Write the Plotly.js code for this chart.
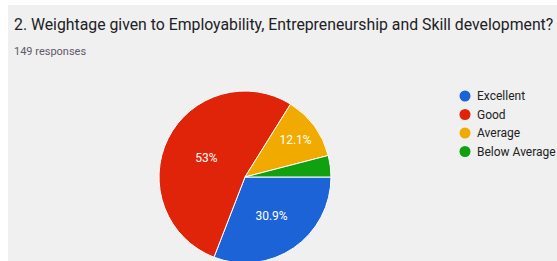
<!DOCTYPE html>
<html>
<head>
<meta charset="utf-8">
<script src="https://cdn.plot.ly/plotly-3.0.1.min.js"></script>
<style>
  html, body { margin: 0; padding: 0; background: #ffffff; overflow: hidden; width: 557px; height: 261px; }
  #chart { position: absolute; left: 8px; top: 5px; width: 549px; height: 270px; }
</style>
</head>
<body>
<div id="chart"></div>
<script>
// ---- data ----
const titleText = "2. Weightage given to Employability, Entrepreneurship and Skill development?";
const subtitleText = "149 responses";
const categories = ["Excellent", "Good", "Average", "Below Average"];
const counts = [46, 79, 18, 6];
const colors = ["#1c63d8", "#e0240a", "#f1ab00", "#10a010"];

// ---- layout helpers ----
const W = 549, H = 270;
const px = x => (x - 8) / W;          // page x -> paper x
const py = y => 1 - (y - 5) / H;      // page y -> paper y

const total = counts.reduce((a, b) => a + b, 0);
const labelsText = counts.map(v => {
  const p = Math.round(v / total * 1000) / 10;
  return p < 5 ? "" : (Number.isInteger(p) ? p.toFixed(0) : p.toFixed(1)) + "%";
});

const pie = {
  type: "pie",
  labels: categories,
  values: counts,
  text: labelsText,
  textinfo: "text",
  textposition: "inside",
  insidetextorientation: "horizontal",
  textfont: { family: "Roboto, Arial, sans-serif", size: 12, color: "#ffffff" },
  marker: { colors: colors, line: { color: "#ffffff", width: 1 } },
  sort: false,
  direction: "clockwise",
  rotation: 90,
  showlegend: false,
  hoverinfo: "none",
  domain: { x: [px(159), px(331)], y: [py(263), py(91)] }
};

const annotations = [
  { text: titleText, xref: "paper", yref: "paper", x: px(12), y: py(24), xanchor: "left", yanchor: "middle",
    showarrow: false, font: { family: "Roboto, Arial, sans-serif", size: 15.8, color: "#202124" } },
  { text: subtitleText, xref: "paper", yref: "paper", x: px(12), y: py(51), xanchor: "left", yanchor: "middle",
    showarrow: false, font: { family: "Roboto, Arial, sans-serif", size: 11, color: "#5f5a6a" } }
];
const shapes = [];
const legendY = [96, 114.5, 133, 151.5];
categories.forEach((c, i) => {
  shapes.push({ type: "circle", xref: "paper", yref: "paper", xsizemode: "pixel", ysizemode: "pixel",
    xanchor: px(465), yanchor: py(legendY[i]), x0: -5.5, x1: 5.5, y0: -5.5, y1: 5.5,
    fillcolor: colors[i], line: { width: 0 } });
  annotations.push({ text: c, xref: "paper", yref: "paper", x: px(475), y: py(legendY[i]), xanchor: "left", yanchor: "middle",
    showarrow: false, font: { family: "Roboto, Arial, sans-serif", size: 12, color: "#222222" } });
});

const layout = {
  width: W, height: H,
  margin: { l: 0, r: 0, t: 0, b: 0 },
  paper_bgcolor: "#f0f0f0",
  plot_bgcolor: "#f0f0f0",
  showlegend: false,
  annotations: annotations,
  shapes: shapes,
  hovermode: false
};

Plotly.newPlot("chart", [pie], layout, { displayModeBar: false, staticPlot: true });
</script>
</body>
</html>
